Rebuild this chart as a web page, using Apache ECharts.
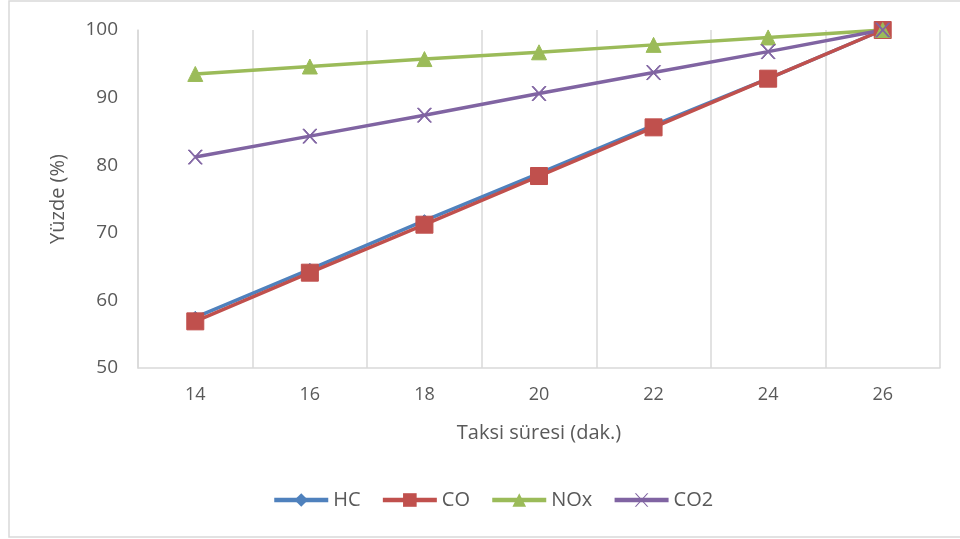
<!DOCTYPE html>
<html><head><meta charset="utf-8">
<script src="https://cdn.jsdelivr.net/npm/echarts@6/dist/echarts.min.js"></script>
<style>html,body{margin:0;padding:0;background:#fff}#c{width:960px;height:539px}</style>
</head><body><div id="c"></div>
<script>
const categories = ['14','16','18','20','22','24','26'];
const hc  = [57.5, 64.6, 71.8, 78.8, 85.9, 92.8, 100];
const co  = [56.9, 64.1, 71.2, 78.4, 85.6, 92.8, 100];
const nox = [93.5, 94.6, 95.7, 96.7, 97.8, 98.9, 100];
const co2 = [81.2, 84.3, 87.4, 90.6, 93.7, 96.8, 100];
const yTicks = {min: 50, max: 100, interval: 10};
const xTitle = 'Taksi süresi (dak.)';
const yTitle = 'Yüzde (%)';

const font = "'Open Sans', 'Liberation Sans', sans-serif";
const chart = echarts.init(document.getElementById('c'), null, {renderer: 'canvas'});
const crossPath = 'path://M0,0 L2,0 L10,8 L18,0 L20,0 L11,9 L20,18 L18,18 L10,10 L2,18 L0,18 L9,9 Z';
function mk(name, data, color, symbol, size) {
  return {name, type: 'line', data, symbol, symbolSize: size, showSymbol: true,
    lineStyle: {color, width: 3.5}, itemStyle: {color, borderColor: color},
    emphasis: {disabled: true}, animation: false};
}
chart.setOption({
  animation: false,
  textStyle: {fontFamily: font},
  graphic: [{type: 'rect', shape: {x: 9, y: 1, width: 960, height: 536}, style: {fill: 'none', stroke: '#d9d9d9', lineWidth: 1.5}, silent: true}],
  grid: {left: 138, right: 20, top: 30, bottom: 171, containLabel: false},
  xAxis: {type: 'category', data: categories, boundaryGap: true,
    name: xTitle, nameLocation: 'middle', nameGap: 55,
    nameTextStyle: {color: '#595959', fontSize: 20, fontFamily: font},
    axisLine: {show: true, lineStyle: {color: '#d9d9d9', width: 1.5}},
    axisTick: {show: false},
    axisLabel: {color: '#595959', fontSize: 18, margin: 18, fontFamily: font},
    splitLine: {show: true, lineStyle: {color: '#d9d9d9', width: 1.5}}},
  yAxis: {type: 'value', min: yTicks.min, max: yTicks.max, interval: yTicks.interval,
    name: yTitle, nameLocation: 'middle', nameGap: 70, nameRotate: 90,
    nameTextStyle: {color: '#595959', fontSize: 20, fontFamily: font},
    axisLine: {show: true, lineStyle: {color: '#d9d9d9', width: 1.5}},
    axisTick: {show: false},
    axisLabel: {color: '#595959', fontSize: 19, margin: 20, fontFamily: font},
    splitLine: {show: false}},
  legend: {top: 485, left: 267, itemWidth: 54, itemHeight: 17, itemGap: 20,
    textStyle: {color: '#595959', fontSize: 20, fontFamily: font},
    lineStyle: {width: 4.5},
    data: ['HC','CO','NOx','CO2']},
  series: [
    mk('HC', hc, '#4F81BD', 'diamond', 12),
    mk('CO', co, '#C0504D', 'rect', 17),
    mk('NOx', nox, '#9BBB59', 'triangle', 15),
    mk('CO2', co2, '#8064A2', crossPath, 14)
  ]
});
</script></body></html>
